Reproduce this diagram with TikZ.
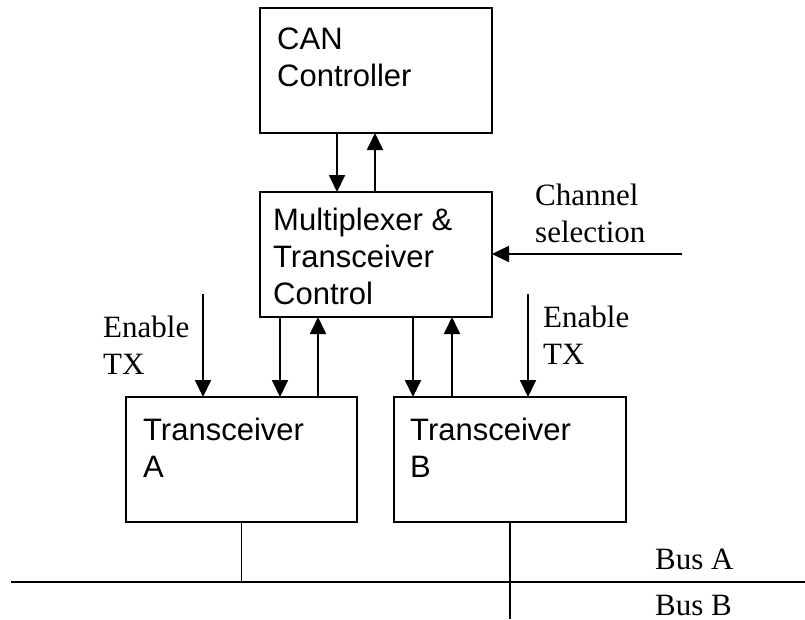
\documentclass[tikz,border=0pt]{standalone}
\usepackage{fontspec}
\setmainfont{Liberation Serif}
\newfontfamily\boxfont{Liberation Sans}
\usetikzlibrary{arrows.meta,calc}
\begin{document}
\begin{tikzpicture}[x=1pt,y=-1pt,
  blk/.style={draw, line width=1.8pt, anchor=north west, inner sep=0pt, outer sep=0pt},
  btxt/.style={anchor=north west, inner sep=0pt, align=left, font=\boxfont\fontsize{31}{37}\selectfont},
  stxt/.style={anchor=north west, inner sep=0pt, align=left, font=\fontsize{31}{37}\selectfont},
  ln/.style={line width=1.8pt},
  arr/.style={line width=1.8pt, -{Triangle[length=17pt,width=16pt]}}]
\useasboundingbox (0,0) rectangle (805,619);
% boxes
\node[blk, minimum width=232pt, minimum height=125pt] (can) at (260,8) {};
\node[blk, minimum width=232pt, minimum height=125pt] (mux) at (260,192) {};
\node[blk, minimum width=231pt, minimum height=125pt] (trA) at (126,397) {};
\node[blk, minimum width=232pt, minimum height=125pt] (trB) at (394,397) {};
% box texts
\node[btxt] (cant) at (277,28) {CAN\\Controller};
\node[btxt] (muxt) at (273,208) {Multiplexer \&\\Transceiver\\Control};
\node[btxt] (trAt) at (143,418) {Transceiver\\A};
\node[btxt] (trBt) at (410,418) {Transceiver\\B};
% labels
\node[stxt] (chl) at (535,184) {Channel\\selection};
\node[stxt] (enAl) at (103,316) {Enable\\TX};
\node[stxt] (enBl) at (543,306) {Enable\\TX};
\node[anchor=base west, inner sep=0pt, font=\fontsize{31}{37}\selectfont] (busAl) at (655,569) {Bus A};
\node[anchor=base west, inner sep=0pt, font=\fontsize{31}{37}\selectfont] (busBl) at (655,615) {Bus B};
% coordinates
\coordinate (chin) at (682,254);
\coordinate (enA) at (203,294);
\coordinate (enB) at (528,294);
\coordinate (busL) at (11,582);
\coordinate (busR) at (805,582);
\coordinate (bot) at (0,619);
% CAN <-> Mux
\draw[arr] ([xshift=77pt]can.south west) -- ([xshift=77pt]mux.north west);
\draw[arr] ([xshift=115pt]mux.north west) -- ([xshift=115pt]can.south west);
% channel selection
\draw[arr] (chin) -- (chin -| mux.east);
% Mux <-> transceivers
\draw[arr] ([xshift=20pt]mux.south west) -- ([xshift=20pt]mux.south west |- trA.north);
\draw[arr] ([xshift=58pt]mux.south west |- trA.north) -- ([xshift=58pt]mux.south west);
\draw[arr] ([xshift=153pt]mux.south west) -- ([xshift=153pt]mux.south west |- trB.north);
\draw[arr] ([xshift=192pt]mux.south west |- trB.north) -- ([xshift=192pt]mux.south west);
% enable TX
\draw[arr] (enA) -- (enA |- trA.north);
\draw[arr] (enB) -- (enB |- trB.north);
% buses
\draw[ln] (busL) -- (busR);
\draw[ln] (trA.south) -- (trA.south |- busL);
\draw[ln] (trB.south) -- (trB.south |- bot);
\end{tikzpicture}
\end{document}
